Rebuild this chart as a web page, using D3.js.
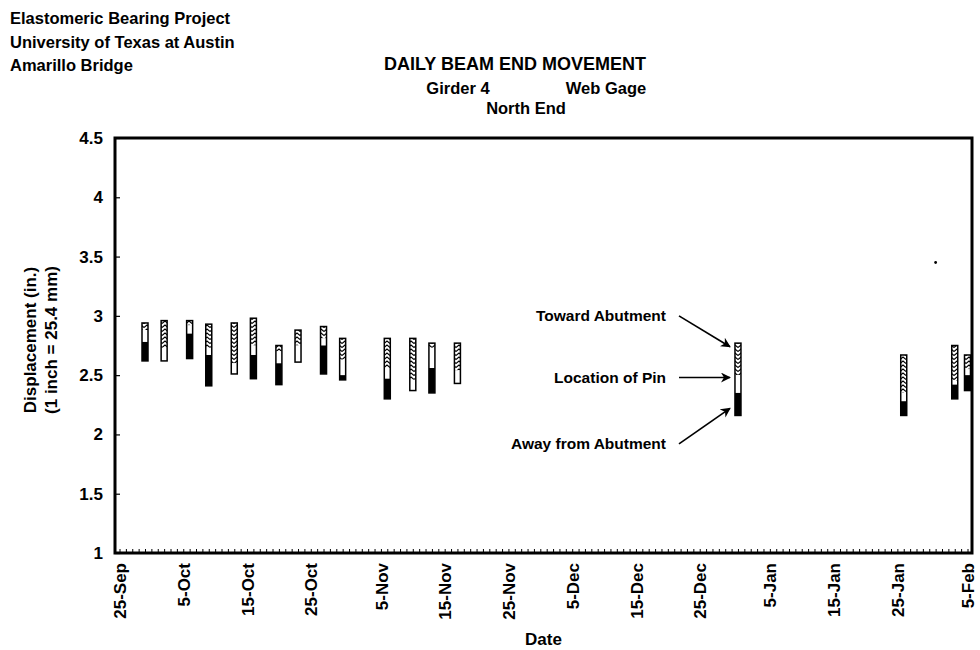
<!DOCTYPE html>
<html>
<head>
<meta charset="utf-8">
<script src="https://cdn.jsdelivr.net/npm/d3@7"></script>
<style>
  body { margin: 0; background: #fff; }
  svg text { font-family: "Liberation Sans", Arial, sans-serif; font-weight: bold; fill: #000; }
</style>
</head>
<body>
<svg id="chart" width="980" height="650"></svg>
<script>
// readings: bottom of black, top of black, top of white (pin), top of hatched
const readDates = ["1996-09-29", "1996-10-02", "1996-10-06", "1996-10-09", "1996-10-13", "1996-10-16",
                   "1996-10-20", "1996-10-23", "1996-10-27", "1996-10-30", "1996-11-06", "1996-11-10",
                   "1996-11-13", "1996-11-17", "1996-12-31", "1997-01-26", "1997-02-03", "1997-02-05"];
const lows      = [2.62, 2.62, 2.64, 2.41, 2.51, 2.47, 2.42, 2.61, 2.51, 2.46, 2.30, 2.37, 2.35, 2.43, 2.16, 2.16, 2.30, 2.37];
const blackTops = [2.78, 2.62, 2.85, 2.67, 2.51, 2.67, 2.60, 2.61, 2.75, 2.50, 2.47, 2.37, 2.56, 2.43, 2.35, 2.28, 2.42, 2.50];
const pinTops   = [2.88, 2.73, 2.92, 2.73, 2.60, 2.75, 2.70, 2.75, 2.81, 2.63, 2.56, 2.46, 2.73, 2.54, 2.50, 2.35, 2.45, 2.55];
const highs     = [2.94, 2.96, 2.96, 2.93, 2.94, 2.98, 2.75, 2.88, 2.91, 2.81, 2.81, 2.81, 2.77, 2.77, 2.77, 2.67, 2.75, 2.67];

const strayDate = "1997-01-31";
const strayValue = 3.45;

const yTicks = [1, 1.5, 2, 2.5, 3, 3.5, 4, 4.5];
const xTickDates = ["1996-09-25", "1996-10-05", "1996-10-15", "1996-10-25", "1996-11-05", "1996-11-15", "1996-11-25",
                    "1996-12-05", "1996-12-15", "1996-12-25", "1997-01-05", "1997-01-15", "1997-01-25", "1997-02-05"];

const headerLines = ["Elastomeric Bearing Project", "University of Texas at Austin", "Amarillo Bridge"];

// annotation: label, value where text sits, value where arrow ends
const noteLabels = ["Toward Abutment", "Location of Pin", "Away from Abutment"];
const noteTextValues = [3.0, 2.48, 1.92];
const noteTipValues = [2.74, 2.48, 2.22];
const noteBarDate = "1996-12-31";

const parse = d3.timeParse("%Y-%m-%d");

const svg = d3.select("#chart");
const m = { l: 115, r: 972, t: 138, b: 553 };

const x = d3.scaleTime()
    .domain([parse("1996-09-25"), parse("1997-02-05")])
    .range([m.l + 4.5, m.r - 4.5]);
const y = d3.scaleLinear().domain([1, 4.5]).range([m.b, m.t]);

// hatch pattern for "toward abutment" part
const defs = svg.append("defs");
const pat = defs.append("pattern")
    .attr("id", "hatch")
    .attr("patternUnits", "userSpaceOnUse")
    .attr("width", 6).attr("height", 4);
pat.append("rect").attr("width", 6).attr("height", 4).attr("fill", "#fff");
pat.append("path").attr("d", "M0,3.5 L3,1 L6,3.5").attr("fill", "none")
    .attr("stroke", "#000").attr("stroke-width", 1.1);

defs.append("marker")
    .attr("id", "arrow")
    .attr("viewBox", "0 0 10 10")
    .attr("refX", 9).attr("refY", 5)
    .attr("markerWidth", 10).attr("markerHeight", 10)
    .attr("markerUnits", "userSpaceOnUse")
    .attr("orient", "auto")
  .append("path")
    .attr("d", "M0,0 L10,5 L0,10 L3,5 Z")
    .attr("fill", "#000");

// header
svg.selectAll(".hdr").data(headerLines).enter().append("text")
    .attr("class", "hdr")
    .attr("x", 10)
    .attr("y", (d, i) => 24 + i * 23.5)
    .attr("font-size", 16.5)
    .text(d => d);

svg.append("text").attr("x", 515).attr("y", 70).attr("text-anchor", "middle")
    .attr("font-size", 18).text("DAILY BEAM END MOVEMENT");
svg.append("text").attr("x", 458).attr("y", 94).attr("text-anchor", "middle")
    .attr("font-size", 16.5).text("Girder 4");
svg.append("text").attr("x", 606).attr("y", 94).attr("text-anchor", "middle")
    .attr("font-size", 16.5).text("Web Gage");
svg.append("text").attr("x", 526).attr("y", 114).attr("text-anchor", "middle")
    .attr("font-size", 16.5).text("North End");

// y axis
const yAxis = svg.append("g")
    .attr("transform", `translate(${m.l},0)`)
    .call(d3.axisLeft(y).tickValues(yTicks).tickFormat(d => String(d)).tickSizeInner(-5).tickSizeOuter(0).tickPadding(12));
yAxis.select(".domain").remove();
yAxis.selectAll("line").attr("stroke", "#000").attr("stroke-width", 1.2);
yAxis.selectAll("text").attr("font-size", 17).attr("font-family", "Liberation Sans, Arial, sans-serif");

// x axis minor (daily) ticks
const xMinor = svg.append("g")
    .attr("transform", `translate(0,${m.b})`)
    .call(d3.axisBottom(x).ticks(d3.timeDay.every(1)).tickFormat("").tickSizeInner(-4).tickSizeOuter(0));
xMinor.select(".domain").remove();
xMinor.selectAll("line").attr("stroke", "#000").attr("stroke-width", 1);

const xAxis = svg.append("g")
    .attr("transform", `translate(0,${m.b})`)
    .call(d3.axisBottom(x).tickValues(xTickDates.map(parse)).tickFormat(d3.timeFormat("%-d-%b")).tickSizeInner(0).tickSizeOuter(0).tickPadding(0));
xAxis.select(".domain").remove();
xAxis.selectAll("text")
    .attr("font-size", 17)
    .attr("font-family", "Liberation Sans, Arial, sans-serif")
    .attr("text-anchor", "end")
    .attr("transform", "rotate(-90)")
    .attr("x", -10).attr("y", 0).attr("dy", "0.36em").attr("dx", 0);

// frame
svg.append("rect")
    .attr("x", m.l).attr("y", m.t)
    .attr("width", m.r - m.l).attr("height", m.b - m.t)
    .attr("fill", "none").attr("stroke", "#000").attr("stroke-width", 3);

// axis titles
svg.append("text")
    .attr("transform", "translate(36,340) rotate(-90)")
    .attr("text-anchor", "middle").attr("font-size", 17)
    .text("Displacement (in.)");
svg.append("text")
    .attr("transform", "translate(57,340) rotate(-90)")
    .attr("text-anchor", "middle").attr("font-size", 17)
    .text("(1 inch = 25.4 mm)");
svg.append("text")
    .attr("x", (m.l + m.r) / 2).attr("y", 645)
    .attr("text-anchor", "middle").attr("font-size", 17)
    .text("Date");

// bars
const rows = readDates.map((d, i) => ({
    date: parse(d), low: lows[i], black: blackTops[i], pin: pinTops[i], high: highs[i]
}));
const bw = 6;
const bars = svg.append("g").selectAll("g").data(rows).enter().append("g");
bars.append("rect")
    .attr("x", d => x(d.date) - bw / 2).attr("width", bw)
    .attr("y", d => y(d.high)).attr("height", d => y(d.pin) - y(d.high))
    .attr("fill", "url(#hatch)");
bars.append("rect")
    .attr("x", d => x(d.date) - bw / 2).attr("width", bw)
    .attr("y", d => y(d.pin)).attr("height", d => y(d.black) - y(d.pin))
    .attr("fill", "#fff");
bars.append("rect")
    .attr("x", d => x(d.date) - bw / 2).attr("width", bw)
    .attr("y", d => y(d.black)).attr("height", d => y(d.low) - y(d.black))
    .attr("fill", "#000");
bars.append("rect")
    .attr("x", d => x(d.date) - bw / 2).attr("width", bw)
    .attr("y", d => y(d.high)).attr("height", d => y(d.low) - y(d.high))
    .attr("fill", "none").attr("stroke", "#000").attr("stroke-width", 1.5);

svg.append("circle")
    .attr("cx", x(parse(strayDate))).attr("cy", y(strayValue))
    .attr("r", 1.4).attr("fill", "#000");

// annotations
const tipX = x(parse(noteBarDate)) - 8;
const notes = noteLabels.map((t, i) => ({ t, ty: y(noteTextValues[i]), tip: y(noteTipValues[i]) }));
svg.selectAll(".note").data(notes).enter().append("text")
    .attr("class", "note")
    .attr("x", 666).attr("y", d => d.ty + 5)
    .attr("text-anchor", "end").attr("font-size", 15.5)
    .text(d => d.t);
svg.selectAll(".arr").data(notes).enter().append("line")
    .attr("class", "arr")
    .attr("x1", 679).attr("y1", d => d.ty)
    .attr("x2", tipX).attr("y2", d => d.tip)
    .attr("stroke", "#000").attr("stroke-width", 1.7)
    .attr("marker-end", "url(#arrow)");
</script>
</body>
</html>
